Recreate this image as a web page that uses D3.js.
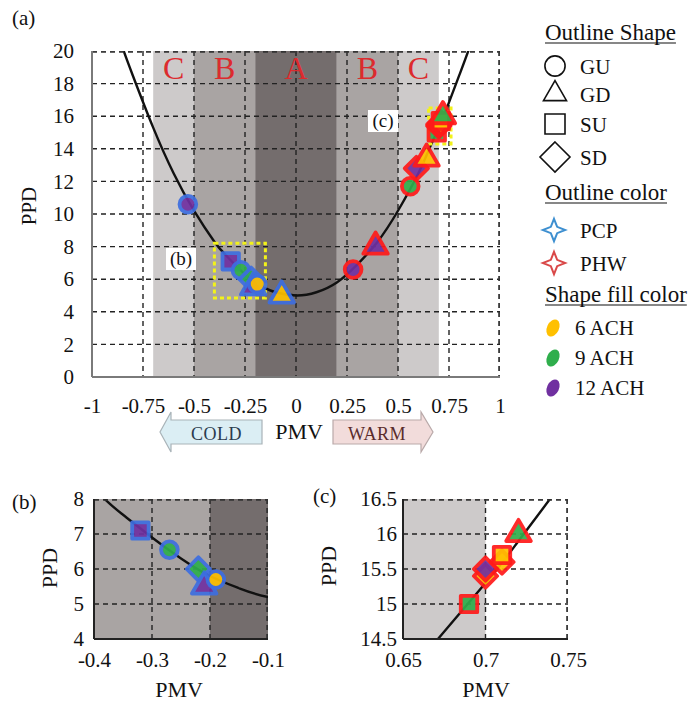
<!DOCTYPE html>
<html>
<head>
<meta charset="utf-8">
<script src="https://cdn.jsdelivr.net/npm/d3@7"></script>
<style>
body { margin: 0; background: #fff; }
svg text { font-family: "Liberation Serif", "Tinos", "Times New Roman", "DejaVu Serif", serif; fill: #111; }
</style>
</head>
<body>
<svg id="chart" width="694" height="707"></svg>
<script>
// PPD vs PMV curve
var curvePMV = [-0.9, -0.85, -0.8, -0.7, -0.6, -0.5, -0.4, -0.35, -0.3, -0.25, -0.2, -0.15, -0.1, 0,
                0.1, 0.2, 0.3, 0.4, 0.5, 0.6, 0.65, 0.7, 0.72, 0.75, 0.8, 0.85, 0.9];
var curvePPD = [22.1, 20.2, 18.5, 15.3, 12.5, 10.2, 8.3, 7.55, 6.9, 6.3, 5.8, 5.45, 5.2, 5.0,
                5.2, 5.8, 6.9, 8.3, 10.2, 12.5, 13.9, 15.3, 15.9, 16.85, 18.5, 20.2, 22.1];

// comfort categories
var zoneEdges = [-0.7, -0.5, -0.2, 0.2, 0.5, 0.7];
var zoneLabels = ['C', 'B', 'A', 'B', 'C'];

// measured points
var ptPMV    = [-0.53, -0.32, -0.27, -0.22, -0.21, -0.19, -0.07,
                0.28, 0.39, 0.56, 0.59, 0.64, 0.69, 0.70, 0.70, 0.71, 0.71, 0.72];
var ptPPD    = [10.6, 7.1, 6.55, 6.0, 5.5, 5.7, 5.0,
                6.6, 8.0, 11.7, 12.8, 13.4, 15.0, 15.4, 15.5, 15.6, 15.7, 16.0];
var ptShape  = ['GU', 'SU', 'GU', 'SD', 'GD', 'GU', 'GD',
                'GU', 'GD', 'GU', 'SD', 'GD', 'SU', 'SD', 'SD', 'SD', 'SU', 'GD'];
var ptSystem = ['PCP', 'PCP', 'PCP', 'PCP', 'PCP', 'PCP', 'PCP',
                'PHW', 'PHW', 'PHW', 'PHW', 'PHW', 'PHW', 'PHW', 'PHW', 'PHW', 'PHW', 'PHW'];
var ptFill   = ['12 ACH', '12 ACH', '9 ACH', '9 ACH', '12 ACH', '6 ACH', '6 ACH',
                '12 ACH', '12 ACH', '9 ACH', '12 ACH', '6 ACH', '9 ACH', '6 ACH', '12 ACH', '6 ACH', '6 ACH', '9 ACH'];

var shapeNames = ['GU', 'GD', 'SU', 'SD'];
var systemNames = ['PCP', 'PHW'];
var fillNames = ['6 ACH', '9 ACH', '12 ACH'];

var mainXTicks = [-1, -0.75, -0.5, -0.25, 0, 0.25, 0.5, 0.75, 1];
var mainYTicks = [0, 2, 4, 6, 8, 10, 12, 14, 16, 18, 20];
var bXTicks = [-0.4, -0.3, -0.2, -0.1];
var bYTicks = [4, 5, 6, 7, 8];
var cXTicks = [0.65, 0.7, 0.75];
var cYTicks = [14.5, 15, 15.5, 16, 16.5];

// zoomed windows marked on panel (a): [pmv0, pmv1, ppd0, ppd1]
var bBox = [-0.4, -0.15, 4.85, 8.2];
var cBox = [0.65, 0.76, 14.3, 16.5];

var zoneColor = { A: '#746d6d', B: '#a9a4a3', C: '#cdcaca' };
var systemColor = { PCP: '#3d6ee0', PHW: '#ff1a1a' };
var fillColor = { '6 ACH': '#ffc000', '9 ACH': '#2fae4c', '12 ACH': '#7030a0' };
var FONT = '"Liberation Serif", "Tinos", "Times New Roman", "DejaVu Serif", serif';

var diamond = {
    draw: function (ctx, size) {
        var h = Math.sqrt(size / 2);
        ctx.moveTo(0, -h); ctx.lineTo(h, 0); ctx.lineTo(0, h); ctx.lineTo(-h, 0); ctx.closePath();
    }
};
var star4 = {
    draw: function (ctx, size) {
        var R = Math.sqrt(size) / 2, r = R * 0.4;
        for (var i = 0; i < 8; i++) {
            var a = i * Math.PI / 4 - Math.PI / 2;
            var rr = (i % 2 === 0) ? R : r;
            if (i === 0) ctx.moveTo(rr * Math.cos(a), rr * Math.sin(a));
            else ctx.lineTo(rr * Math.cos(a), rr * Math.sin(a));
        }
        ctx.closePath();
    }
};
var symbolFor = { GU: d3.symbolCircle, GD: d3.symbolTriangle, SU: d3.symbolSquare, SD: diamond };
var sizeFor = { GU: 220, GD: 260, SU: 270, SD: 270 };

var points = ptPMV.map(function (d, i) {
    return { pmv: d, ppd: ptPPD[i], shape: ptShape[i], sys: ptSystem[i], fill: ptFill[i] };
});
var curve = curvePMV.map(function (d, i) { return { pmv: d, ppd: curvePPD[i] }; });

var svg = d3.select('#chart');
var defs = svg.append('defs');

function drawPanel(p) {
    var x = d3.scaleLinear().domain(p.xDomain).range([p.left, p.right]);
    var y = d3.scaleLinear().domain(p.yDomain).range([p.bottom, p.top]);
    var g = svg.append('g');

    defs.append('clipPath').attr('id', p.id + '-clip')
        .append('rect')
        .attr('x', p.left).attr('y', p.top)
        .attr('width', p.right - p.left).attr('height', p.bottom - p.top);

    var inner = g.append('g').attr('clip-path', 'url(#' + p.id + '-clip)');

    // comfort zone bands
    inner.selectAll('rect.zone')
        .data(zoneLabels)
        .enter().append('rect')
        .attr('class', 'zone')
        .attr('x', function (d, i) { return x(zoneEdges[i]); })
        .attr('y', p.top)
        .attr('width', function (d, i) { return x(zoneEdges[i + 1]) - x(zoneEdges[i]); })
        .attr('height', p.bottom - p.top)
        .style('fill', function (d) { return zoneColor[d]; });

    // grid
    var gx = p.xTicks.slice(1);
    var gy = p.yTicks.slice(1);
    inner.selectAll('line.gx')
        .data(gx)
        .enter().append('line')
        .attr('x1', function (d) { return x(d); }).attr('x2', function (d) { return x(d); })
        .attr('y1', p.top).attr('y2', p.bottom);
    inner.selectAll('line.gy')
        .data(gy)
        .enter().append('line')
        .attr('x1', p.left).attr('x2', p.right)
        .attr('y1', function (d) { return y(d); }).attr('y2', function (d) { return y(d); });
    inner.selectAll('line')
        .attr('stroke', '#222')
        .attr('stroke-width', 1.4)
        .attr('stroke-dasharray', '5,4');
    // top and right borders are dashed too
    g.append('line').attr('x1', p.left).attr('x2', p.right).attr('y1', p.top + 1).attr('y2', p.top + 1)
        .attr('stroke', '#333').attr('stroke-width', 1.6).attr('stroke-dasharray', '5,4');
    g.append('line').attr('x1', p.right - 1).attr('x2', p.right - 1).attr('y1', p.top).attr('y2', p.bottom)
        .attr('stroke', '#333').attr('stroke-width', 1.6).attr('stroke-dasharray', '5,4');

    // PPD curve
    var line = d3.line()
        .x(function (d) { return x(d.pmv); })
        .y(function (d) { return y(d.ppd); })
        .curve(d3.curveNatural);
    inner.append('path')
        .datum(curve)
        .attr('d', line)
        .attr('fill', 'none')
        .attr('stroke', '#111')
        .attr('stroke-width', 2.4);

    if (p.boxes) {
        p.boxes.forEach(function (b) {
            inner.append('rect')
                .attr('x', x(b[0])).attr('y', y(b[3]))
                .attr('width', x(b[1]) - x(b[0]))
                .attr('height', y(b[2]) - y(b[3]))
                .attr('fill', 'none')
                .attr('stroke', '#f2f21a')
                .attr('stroke-width', 3)
                .attr('stroke-dasharray', '4,3');
        });
    }

    // points
    inner.selectAll('path.pt')
        .data(points)
        .enter().append('path')
        .attr('class', 'pt')
        .attr('transform', function (d) { return 'translate(' + x(d.pmv) + ',' + y(d.ppd) + ')'; })
        .attr('d', function (d) { return d3.symbol().type(symbolFor[d.shape]).size(sizeFor[d.shape])(); })
        .style('fill', function (d) { return fillColor[d.fill]; })
        .style('stroke', function (d) { return systemColor[d.sys]; })
        .style('stroke-width', 3.8)
        .style('stroke-linejoin', 'round')
        .style('opacity', 0.92);

    // axes
    var fmt = function (d) { return String(d); };
    var ax = g.append('g')
        .attr('transform', 'translate(0,' + p.bottom + ')')
        .call(d3.axisBottom(x).tickValues(p.xTicks).tickSize(0).tickPadding(p.xPad).tickFormat(fmt));
    var ay = g.append('g')
        .attr('transform', 'translate(' + p.left + ',0)')
        .call(d3.axisLeft(y).tickValues(p.yTicks).tickSize(0).tickPadding(p.yPad).tickFormat(fmt));
    [ax, ay].forEach(function (a) {
        a.attr('font-family', FONT);
        a.select('.domain').remove();
        a.selectAll('text')
            .style('font-family', FONT)
            .style('font-size', p.fontSize + 'px')
            .style('fill', '#111');
    });
    g.append('line').attr('x1', p.left).attr('x2', p.left).attr('y1', p.top).attr('y2', p.bottom)
        .attr('stroke', p.axisColor).attr('stroke-width', 2);
    g.append('line').attr('x1', p.left).attr('x2', p.right).attr('y1', p.bottom).attr('y2', p.bottom)
        .attr('stroke', p.axisColor).attr('stroke-width', 2);

    return { x: x, y: y, g: g };
}

// ---- panel (a)
var a = drawPanel({
    id: 'pa', left: 92, right: 500, top: 51, bottom: 377,
    xDomain: [-1, 1], yDomain: [0, 20],
    xTicks: mainXTicks, yTicks: mainYTicks,
    xPad: 21, yPad: 18, fontSize: 21, axisColor: '#7a7a7a',
    boxes: [bBox, cBox]
});

a.g.selectAll('text.zl')
    .data(zoneLabels)
    .enter().append('text')
    .attr('x', function (d, i) { return a.x((zoneEdges[i] + zoneEdges[i + 1]) / 2); })
    .attr('y', 79)
    .attr('text-anchor', 'middle')
    .style('font-size', '32px')
    .style('fill', '#dc2b2e')
    .text(function (d) { return d; });

function tagLabel(txt, cx, cy) {
    svg.append('rect').attr('x', cx - 15).attr('y', cy - 11).attr('width', 30).attr('height', 22)
        .attr('fill', '#fff');
    svg.append('text').attr('x', cx).attr('y', cy + 6).attr('text-anchor', 'middle')
        .style('font-size', '19px').text(txt);
}
tagLabel('(b)', 181, 259);
tagLabel('(c)', 383, 121);

svg.append('text').attr('x', 12).attr('y', 25).style('font-size', '21px').text('(a)');
svg.append('text').attr('transform', 'translate(36,206) rotate(-90)')
    .attr('text-anchor', 'middle').style('font-size', '21px').text('PPD');

// COLD / WARM arrows
function arrow(x0, x1, dir, fill, stroke, txt, txtColor) {
    var yt = 420, yb = 444, ym = 432;
    var tip = dir < 0 ? x0 : x1;
    var base = dir < 0 ? x0 + 11 : x1 - 12;
    var tail = dir < 0 ? x1 : x0;
    var pts = [[tail, yt], [base, yt], [base, 412], [tip, ym], [base, 452], [base, yb], [tail, yb]];
    svg.append('path')
        .attr('d', d3.line()(pts) + 'Z')
        .attr('fill', fill).attr('stroke', stroke).attr('stroke-width', 1.2);
    svg.append('text').attr('x', (base + tail) / 2).attr('y', 440).attr('text-anchor', 'middle')
        .style('font-size', '18px').style('fill', txtColor).style('letter-spacing', '0.5px').text(txt);
}
arrow(160, 262, -1, '#dbeef4', '#a9b3b8', 'COLD', '#2b3c4e');
arrow(333, 433, 1, '#f2dcdb', '#b9a9a9', 'WARM', '#5a2c2c');
svg.append('text').attr('x', 299).attr('y', 439).attr('text-anchor', 'middle')
    .style('font-size', '22px').text('PMV');

// ---- panel (b)
drawPanel({
    id: 'pb', left: 94, right: 268, top: 499, bottom: 639,
    xDomain: [-0.4, -0.1], yDomain: [4, 8],
    xTicks: bXTicks, yTicks: bYTicks,
    xPad: 13, yPad: 10, fontSize: 21, axisColor: '#222'
});
svg.append('text').attr('x', 12).attr('y', 509).style('font-size', '21px').text('(b)');
svg.append('text').attr('x', 179).attr('y', 697).attr('text-anchor', 'middle')
    .style('font-size', '22px').text('PMV');
svg.append('text').attr('transform', 'translate(57,568) rotate(-90)')
    .attr('text-anchor', 'middle').style('font-size', '22px').text('PPD');

// ---- panel (c)
drawPanel({
    id: 'pc', left: 403, right: 568, top: 499, bottom: 639,
    xDomain: [0.65, 0.75], yDomain: [14.5, 16.5],
    xTicks: cXTicks, yTicks: cYTicks,
    xPad: 13, yPad: 6, fontSize: 21, axisColor: '#222'
});
svg.append('text').attr('x', 313).attr('y', 503).style('font-size', '21px').text('(c)');
svg.append('text').attr('x', 486).attr('y', 697).attr('text-anchor', 'middle')
    .style('font-size', '22px').text('PMV');
svg.append('text').attr('transform', 'translate(336,566) rotate(-90)')
    .attr('text-anchor', 'middle').style('font-size', '22px').text('PPD');

// ---- legend
var lg = svg.append('g');
function title(txt, yy) {
    var t = lg.append('text').attr('x', 545).attr('y', yy).style('font-size', '23px').text(txt);
    var w = t.node().getComputedTextLength();
    lg.append('line').attr('x1', 545).attr('x2', 545 + w).attr('y1', yy + 3).attr('y2', yy + 3)
        .attr('stroke', '#111').attr('stroke-width', 1.2);
}
title('Outline Shape', 40);
title('Outline color', 200);
title('Shape fill color', 302);

var shapeY = [66, 94, 124, 157];
var legendSize = { GU: 320, GD: 230, SU: 400, SD: 450 };
lg.selectAll('path.ls')
    .data(shapeNames)
    .enter().append('path')
    .attr('transform', function (d, i) { return 'translate(555,' + shapeY[i] + ')'; })
    .attr('d', function (d) { return d3.symbol().type(symbolFor[d]).size(legendSize[d])(); })
    .attr('fill', 'none').attr('stroke', '#111').attr('stroke-width', 1.6);
lg.selectAll('text.ls')
    .data(shapeNames)
    .enter().append('text')
    .attr('x', 580).attr('y', function (d, i) { return shapeY[i] + 8; })
    .style('font-size', '21px')
    .text(function (d) { return d; });

var sysY = [230, 263];
var starStroke = { PCP: '#3d8fd0', PHW: '#d94848' };
lg.selectAll('path.lc')
    .data(systemNames)
    .enter().append('path')
    .attr('transform', function (d, i) { return 'translate(554,' + sysY[i] + ')'; })
    .attr('d', d3.symbol().type(star4).size(500))
    .attr('fill', '#fff')
    .attr('stroke', function (d) { return starStroke[d]; })
    .attr('stroke-width', 2);
lg.selectAll('text.lc')
    .data(systemNames)
    .enter().append('text')
    .attr('x', 580).attr('y', function (d, i) { return sysY[i] + 8; })
    .style('font-size', '21px')
    .text(function (d) { return d; });

var fillY = [328, 358, 388];
lg.selectAll('ellipse.lf')
    .data(fillNames)
    .enter().append('ellipse')
    .attr('transform', function (d, i) { return 'translate(553,' + fillY[i] + ') rotate(25)'; })
    .attr('rx', 6).attr('ry', 9)
    .attr('fill', function (d) { return fillColor[d]; });
lg.selectAll('text.lf')
    .data(fillNames)
    .enter().append('text')
    .attr('x', 575).attr('y', function (d, i) { return fillY[i] + 7; })
    .style('font-size', '21px')
    .text(function (d) { return d; });
</script>
</body>
</html>
